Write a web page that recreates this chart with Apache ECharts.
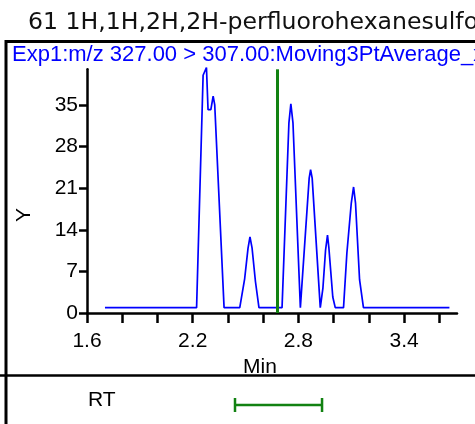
<!DOCTYPE html>
<html>
<head>
<meta charset="utf-8">
<script src="https://cdn.jsdelivr.net/npm/echarts@6/dist/echarts.min.js"></script>
<style>
html,body{margin:0;padding:0;background:#fff;}
#chart{width:475px;height:424px;}
</style>
</head>
<body>
<div id="chart"></div>
<script>
// ---- data ----
const titleText = '61 1H,1H,2H,2H-perfluorohexanesulfo';
const traceText = 'Exp1:m/z 327.00 > 307.00:Moving3PtAverage_x';
const rtMinutes = [1.702, 2.222, 2.259, 2.278, 2.287, 2.303, 2.316, 2.325, 2.378,
  2.467, 2.495, 2.514, 2.525, 2.537, 2.556, 2.576,
  2.707, 2.746, 2.757, 2.769, 2.811,
  2.861, 2.869, 2.878, 2.924,
  2.939, 2.954, 2.965, 2.973, 2.995, 3.009,
  3.056, 3.075, 3.100, 3.113, 3.124, 3.147, 3.169, 3.657];
const intensity = [0.9, 0.9, 40.0, 41.3, 34.2, 34.2, 36.5, 35.0, 0.9,
  0.9, 5.8, 10.9, 12.8, 10.9, 5.3, 0.9,
  0.9, 32.0, 35.2, 32.0, 0.9,
  22.7, 24.1, 22.7, 0.9,
  4.2, 10.6, 13.1, 10.9, 2.7, 0.9,
  0.9, 10.1, 18.5, 21.2, 18.5, 5.6, 0.9, 0.9];
const xTickValues = [1.6, 1.8, 2.0, 2.2, 2.4, 2.6, 2.8, 3.0, 3.2, 3.4, 3.6];
const xLabelValues = [1.6, 2.2, 2.8, 3.4];
const yTickValues = [0, 7, 14, 21, 28, 35];
const apexRT = 2.684;
const rtWindow = [2.44, 2.934];
const xRange = [1.6, 3.7];
const yRange = [0, 41];

const chart = echarts.init(document.getElementById('chart'), null, {renderer: 'canvas'});
const black = '#000';
const green = '#128212';
const fontAx = 'Liberation Sans, Arial, sans-serif';

const option = {
  animation: false,
  backgroundColor: '#fff',
  grid: [
    {left: 87, right: 18, top: 69.3, bottom: 111, containLabel: false},
    {left: 87, right: 18, top: 395, height: 20}
  ],
  xAxis: [{
    type: 'value', gridIndex: 0, min: xRange[0], max: xRange[1],
    name: 'Min', nameLocation: 'middle', nameGap: 39,
    nameTextStyle: {color: black, fontSize: 21, fontFamily: fontAx, padding: [0, 24, 0, 0]},
    axisLine: {show: true, onZero: false, lineStyle: {color: black, width: 2.5}},
    axisTick: {show: true, inside: false, length: 10, customValues: xTickValues, lineStyle: {color: black, width: 2.5}},
    axisLabel: {show: true, customValues: xLabelValues, margin: 18, color: black, fontSize: 21, fontFamily: fontAx},
    splitLine: {show: false}
  }, {
    type: 'value', gridIndex: 1, min: xRange[0], max: xRange[1], show: false
  }],
  yAxis: [{
    type: 'value', gridIndex: 0, min: yRange[0], max: yRange[1],
    axisLine: {show: true, onZero: false, lineStyle: {color: black, width: 2.5}},
    axisTick: {show: true, inside: false, length: 8, customValues: yTickValues, lineStyle: {color: black, width: 2.5}},
    axisLabel: {show: true, customValues: yTickValues, margin: 9, color: black, fontSize: 21, fontFamily: fontAx, padding: [7, 0, 0, 0]},
    splitLine: {show: false}
  }, {
    type: 'value', gridIndex: 1, min: 0, max: 1, show: false
  }],
  series: [{
    type: 'line', xAxisIndex: 0, yAxisIndex: 0,
    data: rtMinutes.map((t, i) => [t, intensity[i]]),
    showSymbol: false, symbol: 'none', clip: false, silent: true,
    lineStyle: {color: '#0000ff', width: 1.7},
    markLine: {
      silent: true, symbol: ['none', 'none'],
      label: {show: false},
      lineStyle: {color: green, width: 3, type: 'solid'},
      data: [{xAxis: apexRT}]
    }
  }, {
    type: 'custom', xAxisIndex: 1, yAxisIndex: 1, silent: true,
    data: [[rtWindow[0], rtWindow[1]]],
    renderItem: function (params, api) {
      const a = api.coord([api.value(0), 0.5]);
      const b = api.coord([api.value(1), 0.5]);
      const h = 7;
      const st = {stroke: green, lineWidth: 2.5};
      return {type: 'group', children: [
        {type: 'line', shape: {x1: a[0], y1: a[1], x2: b[0], y2: b[1]}, style: st},
        {type: 'line', shape: {x1: a[0], y1: a[1] - h, x2: a[0], y2: a[1] + h}, style: st},
        {type: 'line', shape: {x1: b[0], y1: b[1] - h, x2: b[0], y2: b[1] + h}, style: st}
      ]};
    }
  }],
  graphic: [
    {type: 'text', left: 28, top: 11, silent: true,
      style: {text: titleText, fill: '#111', font: '23.6px "DejaVu Sans", sans-serif'}},
    {type: 'line', silent: true, shape: {x1: 6, y1: 40, x2: 6, y2: 424}, style: {stroke: black, lineWidth: 3}},
    {type: 'line', silent: true, shape: {x1: 5, y1: 41.5, x2: 475, y2: 41.5}, style: {stroke: black, lineWidth: 3}},
    {type: 'line', silent: true, shape: {x1: 0, y1: 375.5, x2: 475, y2: 375.5}, style: {stroke: black, lineWidth: 2.5}},
    {type: 'text', left: 12, top: 44, silent: true,
      style: {text: traceText, fill: '#0000ff', font: '22px "Liberation Sans", Arial, sans-serif'}},
    {type: 'text', x: 24, y: 215, rotation: Math.PI / 2, silent: true,
      style: {text: 'Y', fill: black, font: '21px "Liberation Sans", Arial, sans-serif', align: 'center', verticalAlign: 'middle'}},
    {type: 'text', left: 88, top: 390, silent: true,
      style: {text: 'RT', fill: black, font: '21px "Liberation Sans", Arial, sans-serif'}}
  ]
};
chart.setOption(option);
</script>
</body>
</html>
